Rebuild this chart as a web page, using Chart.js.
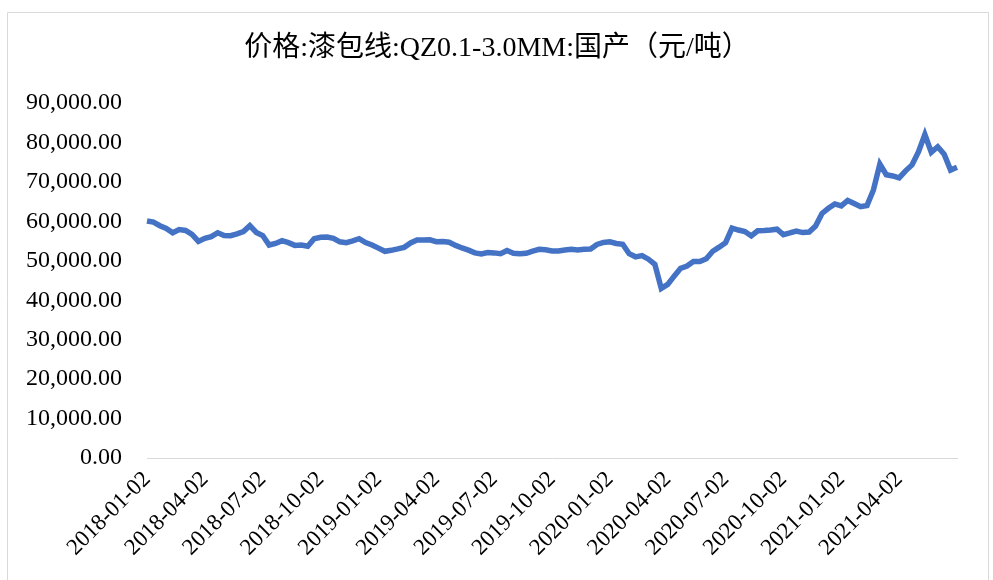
<!DOCTYPE html>
<html>
<head>
<meta charset="utf-8">
<script src="https://cdn.jsdelivr.net/npm/chart.js@4.4.1/dist/chart.umd.min.js"></script>
<style>
  html, body { margin: 0; padding: 0; background: #fff; }
  #wrap { width: 993px; height: 580px; position: relative; }
</style>
</head>
<body>
<div id="wrap"><canvas id="priceChart" width="993" height="580"></canvas></div>
<script>
// dates: three readings per month (02, 12, 22), 2018-01-02 .. 2021-07-02
const months = [];
for (let y = 2018; y <= 2021; y++) {
    for (let m = 1; m <= 12; m++) {
        if (y === 2021 && m > 7) break;
        months.push(y + "-" + String(m).padStart(2, "0"));
    }
}
const dates = [];
months.forEach(ym => {
    ["02", "12", "22"].forEach(d => {
        if (dates.length < 127) dates.push(ym + "-" + d);
    });
});

const tickLabels = [
    "2018-01-02", "2018-04-02", "2018-07-02", "2018-10-02",
    "2019-01-02", "2019-04-02", "2019-07-02", "2019-10-02",
    "2020-01-02", "2020-04-02", "2020-07-02", "2020-10-02",
    "2021-01-02", "2021-04-02"
];

const prices = [
    60100, 59800, 58900, 58200, 57100, 57900, 57700, 56700, 54900, 55700,
    56100, 57100, 56400, 56350, 56800, 57400, 58900, 57200, 56400, 54000,
    54400, 55100, 54600, 53900, 54000, 53700, 55600, 55950, 56000, 55700,
    54800, 54600, 55050, 55600, 54600, 54000, 53200, 52400, 52650, 53000,
    53400, 54500, 55250, 55250, 55300, 54850, 54900, 54700, 53900, 53250,
    52700, 52000, 51750, 52100, 52000, 51800, 52600, 51900, 51800, 51900,
    52450, 52900, 52800, 52500, 52500, 52750, 52900, 52750, 52900, 53000,
    54150, 54650, 54800, 54400, 54200, 51800, 51000, 51300, 50400, 49100,
    43000, 44000, 46100, 48100, 48650, 49800, 49800, 50500, 52400, 53450,
    54600, 58300, 57800, 57400, 56300, 57600, 57650, 57800, 58000, 56600,
    57050, 57550, 57150, 57300, 58800, 62000, 63300, 64400, 63900, 65300,
    64500, 63700, 64000, 67950, 74500, 71800, 71500, 71000, 72800, 74300,
    77600, 82000, 77500, 78900, 77000, 73000, 73700
];

const titleText = "价格:漆包线:QZ0.1-3.0MM:国产（元/吨）";
const fontFamily = "'Liberation Serif', 'Noto Sans CJK SC', serif";

// border around the chart plus a title centred on the whole canvas
const frame = {
    id: "frame",
    beforeDraw(chart) {
        const c = chart.ctx;
        c.save();
        c.fillStyle = "#fff";
        c.fillRect(0, 0, chart.width, chart.height);
        c.strokeStyle = "#d9d9d9";
        c.lineWidth = 1;
        c.beginPath();
        c.moveTo(7.5, 580);
        c.lineTo(7.5, 12.5);
        c.lineTo(988.5, 12.5);
        c.lineTo(988.5, 580);
        c.stroke();
        c.fillStyle = "#000";
        c.font = "28px " + fontFamily;
        c.textAlign = "center";
        c.textBaseline = "middle";
        c.fillText(titleText, 497, 49);
        c.restore();
    }
};

const ctx = document.getElementById("priceChart").getContext("2d");
new Chart(ctx, {
    type: "line",
    data: {
        labels: dates,
        datasets: [{
            label: titleText,
            data: prices,
            borderColor: "#4472C4",
            borderWidth: 5.5,
            pointRadius: 0,
            tension: 0,
            fill: false
        }]
    },
    options: {
        responsive: false,
        animation: false,
        layout: { padding: { left: 0, right: 36, top: 103, bottom: 0 } },
        plugins: {
            legend: { display: false },
            tooltip: { enabled: false },
            title: { display: false }
        },
        scales: {
            x: {
                type: "category",
                grid: { display: false },
                border: { display: true, color: "#d9d9d9", width: 1 },
                ticks: {
                    autoSkip: false,
                    minRotation: 45,
                    maxRotation: 45,
                    color: "#000",
                    padding: 0,
                    font: { family: fontFamily, size: 23 },
                    callback: function (value) {
                        const lab = this.getLabelForValue(value);
                        return tickLabels.includes(lab) ? lab : "";
                    }
                },
                afterFit: scale => { scale.height = 122; }
            },
            y: {
                min: 0,
                max: 90000,
                grid: { display: false },
                border: { display: false },
                ticks: {
                    stepSize: 10000,
                    color: "#000",
                    padding: 17,
                    font: { family: fontFamily, size: 24 },
                    callback: v => v.toLocaleString("en-US", { minimumFractionDigits: 2, maximumFractionDigits: 2 })
                },
                afterFit: scale => { scale.width = 147; }
            }
        }
    },
    plugins: [frame]
});
</script>
</body>
</html>
